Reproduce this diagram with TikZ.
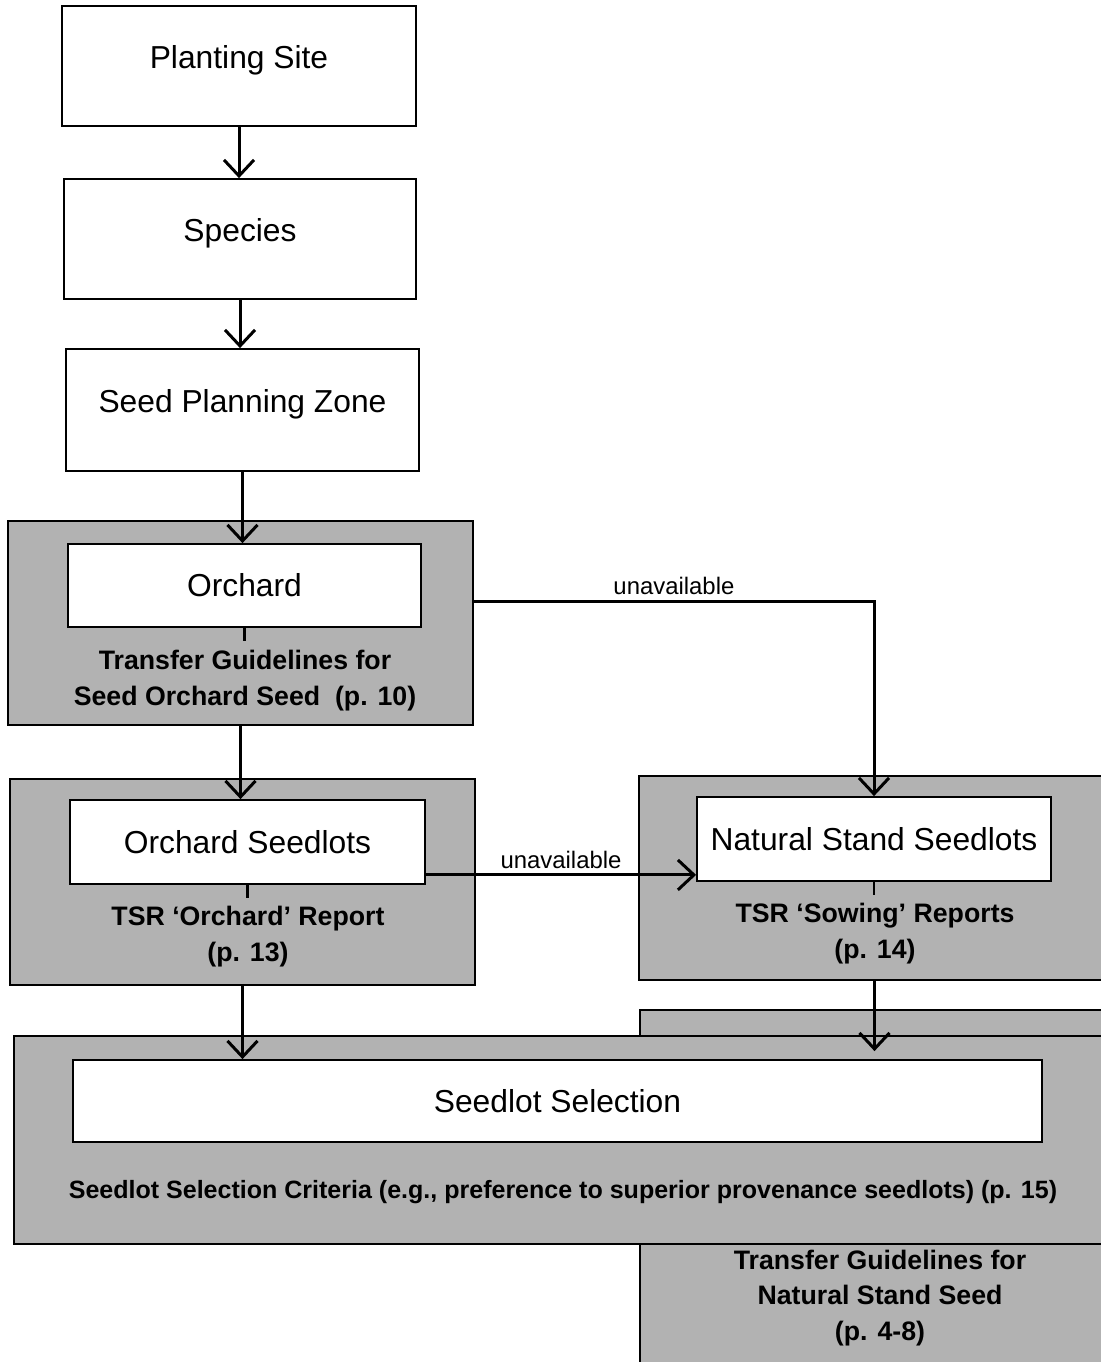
\documentclass[tikz,border=0pt]{standalone}
\usepackage{fontspec}
\setsansfont{Liberation Sans}
\usetikzlibrary{arrows.meta, positioning, fit, calc}

\begin{document}
\begin{tikzpicture}[
	x=0.25mm,
	y=-0.25mm,
	font=\sffamily\fontsize{22.6}{26}\selectfont,
	panel/.style={
		draw,
		line width=0.45mm,
		fill=black!30,
		inner sep=0pt
	},
	box/.style={
		panel,
		fill=white
	},
	tall/.style={
		box,
		minimum height=30mm,
		text depth=4.5mm
	},
	note/.style={
		font=\sffamily\bfseries\fontsize{19}{25.5}\selectfont,
		align=center
	},
	tag/.style={
		font=\sffamily\fontsize{17}{19}\selectfont
	},
	tick/.style={
		line width=0.7mm
	},
	flow/.style={
		line width=0.75mm,
		-{Straight Barb[length=4mm, width=7.5mm]}
	}
	]
	\useasboundingbox (0,0) rectangle (1101,1362);
	\clip (0,0) rectangle (1101,1362);

	% shaded panels, the lower right one lies behind the selection panel
	\node[panel, fit={(8,521) (473,725)}] (orchPanel) {};
	\node[panel, fit={(10,779) (475,985)}] (oslPanel) {};
	\node[panel, fit={(639,776) (1110,980)}] (nsPanel) {};
	\node[panel, fit={(640,1010) (1110,1370)}] (tgPanel) {};
	\node[panel, fit={(14,1036) (1110,1244)}] (selPanel) {};

	% white step boxes
	\node[tall, minimum width=88.5mm] (site) at (239,66) {Planting Site};
	\node[tall, minimum width=88mm] (species) at (240,239) {Species};
	\node[tall, minimum width=88.25mm, minimum height=30.5mm] (zone) at (242.5,410) {Seed Planning Zone};
	\node[box, minimum width=88.25mm, minimum height=20.75mm] (orch) at (244.5,585.5) {Orchard};
	\node[box, minimum width=88.75mm, minimum height=21mm] (osl) at (247.5,842) {Orchard Seedlots};
	\node[box, minimum width=88.5mm, minimum height=21mm] (ns) at (874,839) {Natural Stand Seedlots};
	\node[box, minimum width=242.25mm, minimum height=20.5mm] (sel) at (557.5,1101) {Seedlot Selection};

	% bold notes in the panels
	\node[note] (orchNote) at (245,681) {Transfer Guidelines for\\Seed Orchard Seed~~(p. 10)};
	\node[note] (oslNote) at (248,937) {TSR ‘Orchard’ Report\\(p. 13)};
	\node[note] (nsNote) at (875,934) {TSR ‘Sowing’ Reports\\(p. 14)};
	\node[note, font=\sffamily\bfseries\fontsize{17.8}{22}\selectfont] (selNote) at (563,1192)
		{Seedlot Selection Criteria (e.g., preference to superior provenance seedlots) (p. 15)};
	\node[note] (tgNote) at (880,1298) {Transfer Guidelines for\\Natural Stand Seed\\(p. 4-8)};

	% short ticks under the boxes
	\draw[tick] (orch.south) -- ++(0,13);
	\draw[tick] (osl.south) -- ++(0,13);
	\draw[tick] (ns.south) -- ++(0,13);

	% flow
	\draw[flow] (site.south) -- (site.south |- species.north);
	\draw[flow] (species.south) -- (species.south |- zone.north);
	\draw[flow] (zone.south) -- (zone.south |- orch.north);
	\draw[flow] (orchPanel.south) -- (orchPanel.south |- osl.north);
	\coordinate (bend) at (872,601);
	\draw[flow] (orchPanel.east |- bend) -| (ns.north)
		node[tag, pos=0.25, above] {unavailable};
	\coordinate (oslOut) at ($(osl.south east)+(0,-10)$);
	\draw[flow] (oslOut) -- (oslOut -| ns.west)
		node[tag, midway, above] {unavailable};
	\draw[flow] (oslPanel.south) -- (oslPanel.south |- sel.north);
	\draw[flow, shorten >=2mm] (nsPanel.south) -- (nsPanel.south |- sel.north);
\end{tikzpicture}
\end{document}
